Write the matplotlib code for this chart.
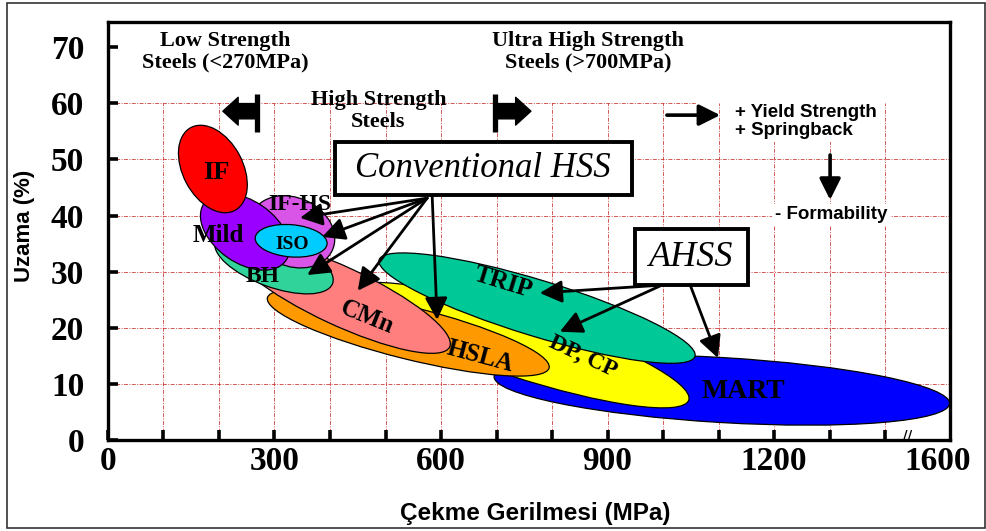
import matplotlib

matplotlib.use("Agg")
import matplotlib.pyplot as plt
from matplotlib.patches import Ellipse, Rectangle
from matplotlib.transforms import Affine2D, blended_transform_factory

# steel families, drawn bottom -> top
# centre in (MPa, %); length/thick along and across the band in MPa-equivalent screen units
steels = ["MART", "DP, CP", "TRIP", "HSLA", "CMn", "BH", "IF-HS", "Mild", "ISO", "IF"]
cx = [1106, 742, 773, 541, 418, 299, 332, 247, 330, 189]
cy = [8.9, 16.9, 23.5, 19.1, 25.7, 31.7, 37.1, 37.1, 35.5, 48.3]
length = [822, 640, 595, 523, 436, 225, 159, 180, 130, 169]
thick = [117, 115, 101, 94, 105, 90, 123, 112, 58, 108]
tilt = [-3.4, -18, -17, -14, -25, -20, -25, -35, -5, -62]
colors = ["#0000ff", "#ffff00", "#00c896", "#ff9900", "#ff7f7f",
          "#30d49a", "#d855e8", "#9a00ff", "#00ccff", "#ff0000"]

label_x = [1144, 856, 712, 670, 467, 279, 346, 198, 332, 195]
label_y = [8.6, 14.8, 28.0, 14.8, 21.9, 29.1, 41.9, 36.5, 34.8, 47.7]
label_rot = [0, -25, -17, -15, -22, 0, 0, 0, 0, 0]
label_size = [20, 17, 18, 18, 18, 17, 17, 18, 14, 19]

# arrows from the two group boxes (tail -> head), MPa / %
conv_tail = [(575, 43.1), (575, 43.1), (575, 43.1), (575, 43.1), (584, 43.7)]
conv_head = [(346, 39.6), (386, 36.2), (359, 29.4), (450, 26.6), (593, 21.4)]
ahss_tail = [(998, 27.6), (998, 27.6), (1049, 27.6)]
ahss_head = [(778, 26.2), (814, 19.3), (1099, 14.6)]

x_ticks = list(range(0, 1500, 100))
x_ticklabels = ["0", "", "", "300", "", "", "600", "", "", "900", "", "", "1200", "", ""]
y_ticks = [0, 10, 20, 30, 40, 50, 60, 70]

XMAX, YMAX = 1517, 74.5
W, H = 9.87, 5.31
pos = [0.1094, 0.1714, 0.8531, 0.7872]

serif = "Liberation Serif"
sans = "Liberation Sans"

fig = plt.figure(figsize=(W, H), dpi=100)
ax = fig.add_axes(pos)
ax.set_xlim(0, XMAX)
ax.set_ylim(0, YMAX)

# outer frame round the whole picture
fig.patches.append(Rectangle((0.007, 0.006), 0.991, 0.988, transform=fig.transFigure,
                             fill=False, lw=1.2, ec="#333333"))

# red dash-dot grid, verticals stop at 60 %, the 60 % line stops short of the notes
grid_style = dict(color="#c81e1e", lw=0.7, ls=(0, (4, 1.5, 1, 1.5)), alpha=0.75, zorder=0)
ax.vlines(x_ticks[1:], 0, 60, **grid_style)
ax.hlines(y_ticks[1:-2], 0, XMAX, **grid_style)
ax.hlines(y_ticks[-2], 0, 1060, **grid_style)

# screen aspect: px per % over px per MPa, so tilts are real screen angles
k = (pos[3] * H / YMAX) / (pos[2] * W / XMAX)
squash = Affine2D().scale(1, 1 / k) + ax.transData
for i, name in enumerate(steels):
    ax.add_patch(Ellipse((cx[i], cy[i] * k), length[i], thick[i], angle=tilt[i],
                         transform=squash, fc=colors[i], ec="black", lw=0.9, zorder=2 + i * 0.1))

arrow_kw = dict(arrowstyle="-|>,head_length=0.75,head_width=0.38", lw=2, color="black",
                shrinkA=0, shrinkB=0, mutation_scale=18)
for t, h in zip(conv_tail + ahss_tail, conv_head + ahss_head):
    ax.annotate("", xy=h, xytext=t, arrowprops=arrow_kw, zorder=4)

for i, name in enumerate(steels):
    ax.text(label_x[i], label_y[i], name, rotation=label_rot[i], ha="center", va="center",
            rotation_mode="anchor", family=serif, weight="bold", fontsize=label_size[i], zorder=5)

# group boxes
box_kw = dict(fc="white", ec="black", lw=2.8, zorder=4.5)
ax.add_patch(Rectangle((409, 43.7), 535, 9.4, **box_kw))
ax.text(676, 48.4, "Conventional HSS", ha="center", va="center", family=serif,
        style="italic", fontsize=25, zorder=6)
ax.add_patch(Rectangle((950, 27.6), 203, 10.0, **box_kw))
ax.text(1051, 32.6, "AHSS", ha="center", va="center", family=serif,
        style="italic", fontsize=26, zorder=6)

# strength class headings and the block arrows at 270 / 700 MPa
head_kw = dict(ha="center", va="center", family=serif, weight="bold", fontsize=16,
               linespacing=1.15, zorder=6)
ax.text(211, 69.2, "Low Strength\nSteels (<270MPa)", **head_kw)
ax.text(487, 58.6, "High Strength\nSteels", **head_kw)
ax.text(865, 69.2, "Ultra High Strength\nSteels (>700MPa)", **head_kw)

block = dict(arrowstyle="simple,head_length=0.55,head_width=1.0,tail_width=0.55",
             mutation_scale=20, fc="black", ec="black", shrinkA=0, shrinkB=0)
ax.annotate("", xy=(207, 58.6), xytext=(268, 58.6), arrowprops=block, zorder=6)
ax.annotate("", xy=(762, 58.6), xytext=(697, 58.6), arrowprops=block, zorder=6)
ax.vlines([268, 697], 54.9, 61.7, color="black", lw=3.8, zorder=6)

# trend notes on the right
note_kw = dict(family=sans, weight="bold", fontsize=13.5, zorder=6,
               bbox=dict(fc="white", ec="none", pad=2))
ax.text(1130, 56.8, "+ Yield Strength\n+ Springback", ha="left", va="center",
        linespacing=1.1, **note_kw)
ax.text(1202, 40.1, "- Formability", ha="left", va="center", **note_kw)
thin = dict(arrowstyle="-|>,head_length=0.8,head_width=0.4", lw=2.6, color="black",
            shrinkA=0, shrinkB=0, mutation_scale=16)
ax.annotate("", xy=(1103, 57.9), xytext=(1007, 57.9), arrowprops=thin, zorder=6)
ax.annotate("", xy=(1301, 42.8), xytext=(1301, 50.8), arrowprops=thin, zorder=6)

# axes styling
for s in ax.spines.values():
    s.set_linewidth(2.4)
ax.set_xticks(x_ticks, x_ticklabels)
ax.set_xticks([1495], ["1600"], minor=True)
ax.set_yticks(y_ticks)
ax.tick_params(which="major", direction="in", length=7, width=2.6)
ax.tick_params(axis="x", which="both", pad=4)
ax.tick_params(axis="x", which="minor", length=0)
ax.tick_params(axis="y", pad=17)
for lab in ax.get_xticklabels(which="both") + ax.get_yticklabels():
    lab.set_fontfamily(serif)
    lab.set_fontweight("bold")
    lab.set_fontsize(24)
# axis break mark sitting on the bottom spine
ax.text(1440, 0.012, "//", transform=blended_transform_factory(ax.transData, ax.transAxes),
        ha="center", va="center", fontsize=9, weight="bold", clip_on=False, zorder=7)

ax.set_xlabel("Çekme Gerilmesi (MPa)", family=sans, weight="bold", fontsize=17.5)
ax.set_ylabel("Uzama (%)", family=sans, weight="bold", fontsize=16)
ax.xaxis.set_label_coords(0.507, -0.148)
ax.yaxis.set_label_coords(-0.087, 0.512)

fig.savefig("out.png", dpi=100)
plt.close(fig)
